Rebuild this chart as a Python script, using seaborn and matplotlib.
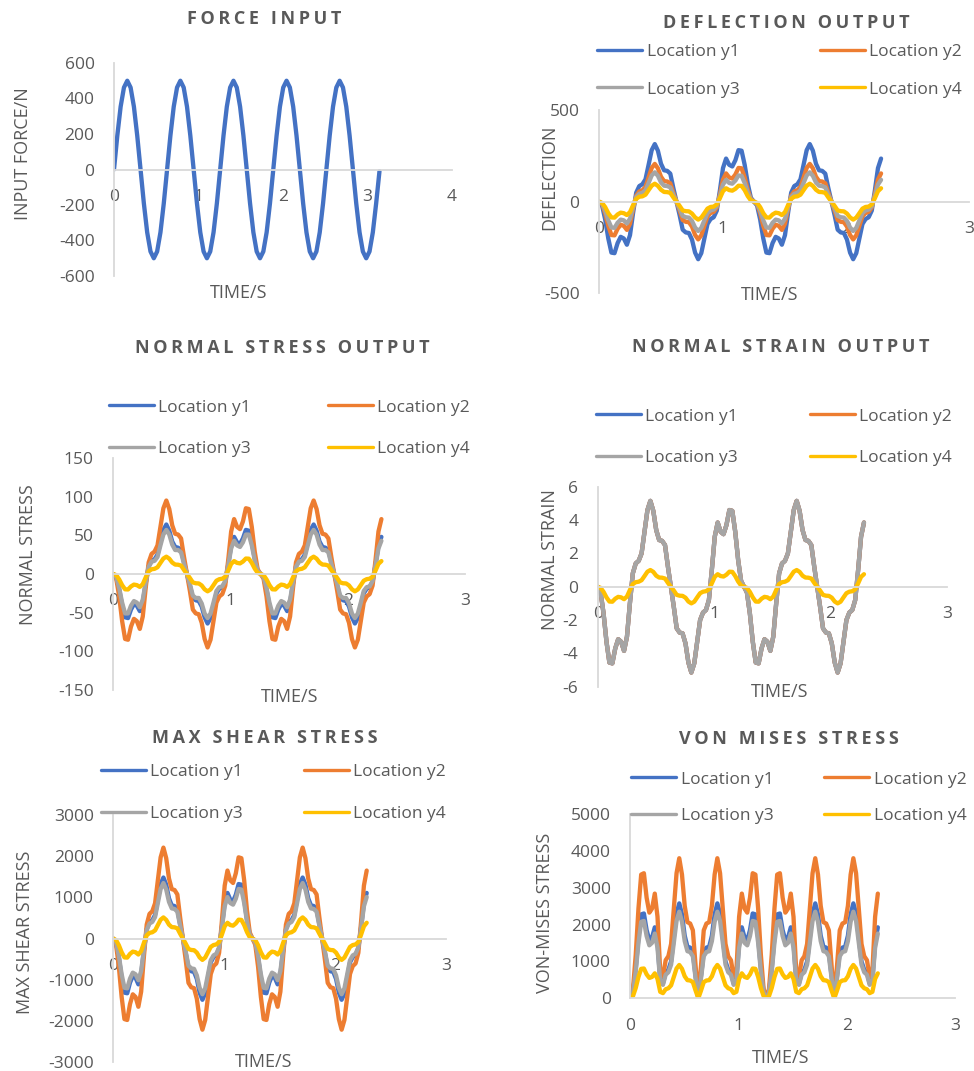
import numpy as np
import pandas as pd
import matplotlib
matplotlib.use("Agg")
import matplotlib.pyplot as plt
from matplotlib.lines import Line2D
import seaborn as sns

# ---------------------------------------------------------------- data
LOCATIONS = ["Location y1", "Location y2", "Location y3", "Location y4"]

# Force input: 16 samples per cycle over five cycles
FORCE_TIME = np.linspace(0, 3.1416, 81)
FORCE = [0, 191, 354, 462, 500, 462, 354, 191, 0, -191, -354, -462, -500, -462, -354, -191,
         0, 191, 354, 462, 500, 462, 354, 191, 0, -191, -354, -462, -500, -462, -354, -191,
         0, 191, 354, 462, 500, 462, 354, 191, 0, -191, -354, -462, -500, -462, -354, -191,
         0, 191, 354, 462, 500, 462, 354, 191, 0, -191, -354, -462, -500, -462, -354, -191,
         0, 191, 354, 462, 500, 462, 354, 191, 0, -191, -354, -462, -500, -462, -354, -191,
         -10]

# Response time base
TIME = np.linspace(0, 2.287, 92)

DEFL_Y1 = [0, -21, -98, -201, -278, -281, -226, -192, -201, -235, -183, -61, 49, 85, 95, 122, 201, 281, 314, 278, 207, 171, 168, 153, 73, 0,
           -73, -153, -168, -171, -207, -278, -314, -281, -201, -122, -95, -85, -49, 61, 183, 235, 201, 192, 226, 281, 278, 201, 98, 21, 0,
           -21, -98, -201, -278, -281, -226, -192, -201, -235, -183, -61, 49, 85, 95, 122, 201, 281, 314, 278, 207, 171, 168, 153, 73, 0,
           -73, -153, -168, -171, -207, -278, -314, -281, -201, -122, -95, -85, -49, 61, 183, 235]
DEFL_Y2 = [0, -14, -64, -132, -182, -184, -148, -126, -132, -154, -120, -40, 32, 56, 62, 80, 132, 184, 206, 182, 136, 112, 110, 100, 48, 0,
           -48, -100, -110, -112, -136, -182, -206, -184, -132, -80, -62, -56, -32, 40, 120, 154, 132, 126, 148, 184, 182, 132, 64, 14, 0,
           -14, -64, -132, -182, -184, -148, -126, -132, -154, -120, -40, 32, 56, 62, 80, 132, 184, 206, 182, 136, 112, 110, 100, 48, 0,
           -48, -100, -110, -112, -136, -182, -206, -184, -132, -80, -62, -56, -32, 40, 120, 154]
DEFL_Y3 = [0, -11, -50, -102, -141, -143, -115, -98, -102, -119, -93, -31, 25, 43, 48, 62, 102, 143, 160, 141, 105, 87, 85, 78, 37, 0,
           -37, -78, -85, -87, -105, -141, -160, -143, -102, -62, -48, -43, -25, 31, 93, 119, 102, 98, 115, 143, 141, 102, 50, 11, 0,
           -11, -50, -102, -141, -143, -115, -98, -102, -119, -93, -31, 25, 43, 48, 62, 102, 143, 160, 141, 105, 87, 85, 78, 37, 0,
           -37, -78, -85, -87, -105, -141, -160, -143, -102, -62, -48, -43, -25, 31, 93, 119]
DEFL_Y4 = [0, -7, -30, -63, -86, -87, -70, -60, -63, -73, -57, -19, 15, 27, 29, 38, 63, 87, 98, 86, 65, 53, 52, 48, 23, 0,
           -23, -48, -52, -53, -65, -86, -98, -87, -63, -38, -29, -27, -15, 19, 57, 73, 63, 60, 70, 87, 86, 63, 30, 7, 0,
           -7, -30, -63, -86, -87, -70, -60, -63, -73, -57, -19, 15, 27, 29, 38, 63, 87, 98, 86, 65, 53, 52, 48, 23, 0,
           -23, -48, -52, -53, -65, -86, -98, -87, -63, -38, -29, -27, -15, 19, 57, 73]

STRESS_Y1 = [0, -4, -20, -41, -56, -57, -46, -39, -41, -48, -37, -12, 10, 17, 19, 25, 41, 57, 64, 56, 42, 35, 34, 31, 15, 0,
             -15, -31, -34, -35, -42, -56, -64, -57, -41, -25, -19, -17, -10, 12, 37, 48, 41, 39, 46, 57, 56, 41, 20, 4, 0,
             -4, -20, -41, -56, -57, -46, -39, -41, -48, -37, -12, 10, 17, 19, 25, 41, 57, 64, 56, 42, 35, 34, 31, 15, 0,
             -15, -31, -34, -35, -42, -56, -64, -57, -41, -25, -19, -17, -10, 12, 37, 48]
STRESS_Y2 = [0, -6, -29, -61, -84, -85, -68, -58, -61, -71, -55, -18, 15, 26, 29, 37, 61, 85, 95, 84, 63, 52, 51, 46, 22, 0,
             -22, -46, -51, -52, -63, -84, -95, -85, -61, -37, -29, -26, -15, 18, 55, 71, 61, 58, 68, 85, 84, 61, 29, 6, 0,
             -6, -29, -61, -84, -85, -68, -58, -61, -71, -55, -18, 15, 26, 29, 37, 61, 85, 95, 84, 63, 52, 51, 46, 22, 0,
             -22, -46, -51, -52, -63, -84, -95, -85, -61, -37, -29, -26, -15, 18, 55, 71]
STRESS_Y3 = [0, -4, -18, -37, -51, -51, -41, -35, -37, -43, -33, -11, 9, 16, 17, 22, 37, 51, 57, 51, 38, 31, 31, 28, 13, 0,
             -13, -28, -31, -31, -38, -51, -57, -51, -37, -22, -17, -16, -9, 11, 33, 43, 37, 35, 41, 51, 51, 37, 18, 4, 0,
             -4, -18, -37, -51, -51, -41, -35, -37, -43, -33, -11, 9, 16, 17, 22, 37, 51, 57, 51, 38, 31, 31, 28, 13, 0,
             -13, -28, -31, -31, -38, -51, -57, -51, -37, -22, -17, -16, -9, 11, 33, 43]
STRESS_Y4 = [0, -1.5, -7.0, -14.4, -19.8, -20.0, -16.1, -13.7, -14.4, -16.7, -13.1, -4.4, 3.5, 6.1, 6.7, 8.7, 14.4, 20.0, 22.4, 19.8, 14.8, 12.2, 12.0, 10.9, 5.2, 0,
             -5.2, -10.9, -12.0, -12.2, -14.8, -19.8, -22.4, -20.0, -14.4, -8.7, -6.7, -6.1, -3.5, 4.4, 13.1, 16.7, 14.4, 13.7, 16.1, 20.0, 19.8, 14.4, 7.0, 1.5, 0,
             -1.5, -7.0, -14.4, -19.8, -20.0, -16.1, -13.7, -14.4, -16.7, -13.1, -4.4, 3.5, 6.1, 6.7, 8.7, 14.4, 20.0, 22.4, 19.8, 14.8, 12.2, 12.0, 10.9, 5.2, 0,
             -5.2, -10.9, -12.0, -12.2, -14.8, -19.8, -22.4, -20.0, -14.4, -8.7, -6.7, -6.1, -3.5, 4.4, 13.1, 16.7]

STRAIN_Y1 = [0, -0.35, -1.6, -3.3, -4.55, -4.6, -3.7, -3.15, -3.3, -3.85, -3.0, -1.0, 0.8, 1.4, 1.55, 2.0, 3.3, 4.6, 5.15, 4.55, 3.4, 2.8, 2.75, 2.5, 1.2, 0,
             -1.2, -2.5, -2.75, -2.8, -3.4, -4.55, -5.15, -4.6, -3.3, -2.0, -1.55, -1.4, -0.8, 1.0, 3.0, 3.85, 3.3, 3.15, 3.7, 4.6, 4.55, 3.3, 1.6, 0.35, 0,
             -0.35, -1.6, -3.3, -4.55, -4.6, -3.7, -3.15, -3.3, -3.85, -3.0, -1.0, 0.8, 1.4, 1.55, 2.0, 3.3, 4.6, 5.15, 4.55, 3.4, 2.8, 2.75, 2.5, 1.2, 0,
             -1.2, -2.5, -2.75, -2.8, -3.4, -4.55, -5.15, -4.6, -3.3, -2.0, -1.55, -1.4, -0.8, 1.0, 3.0, 3.85]
STRAIN_Y2 = [0, -0.35, -1.6, -3.3, -4.55, -4.6, -3.7, -3.15, -3.3, -3.85, -3.0, -1.0, 0.8, 1.4, 1.55, 2.0, 3.3, 4.6, 5.15, 4.55, 3.4, 2.8, 2.75, 2.5, 1.2, 0,
             -1.2, -2.5, -2.75, -2.8, -3.4, -4.55, -5.15, -4.6, -3.3, -2.0, -1.55, -1.4, -0.8, 1.0, 3.0, 3.85, 3.3, 3.15, 3.7, 4.6, 4.55, 3.3, 1.6, 0.35, 0,
             -0.35, -1.6, -3.3, -4.55, -4.6, -3.7, -3.15, -3.3, -3.85, -3.0, -1.0, 0.8, 1.4, 1.55, 2.0, 3.3, 4.6, 5.15, 4.55, 3.4, 2.8, 2.75, 2.5, 1.2, 0,
             -1.2, -2.5, -2.75, -2.8, -3.4, -4.55, -5.15, -4.6, -3.3, -2.0, -1.55, -1.4, -0.8, 1.0, 3.0, 3.85]
STRAIN_Y3 = [0, -0.35, -1.6, -3.3, -4.55, -4.6, -3.7, -3.15, -3.3, -3.85, -3.0, -1.0, 0.8, 1.4, 1.55, 2.0, 3.3, 4.6, 5.15, 4.55, 3.4, 2.8, 2.75, 2.5, 1.2, 0,
             -1.2, -2.5, -2.75, -2.8, -3.4, -4.55, -5.15, -4.6, -3.3, -2.0, -1.55, -1.4, -0.8, 1.0, 3.0, 3.85, 3.3, 3.15, 3.7, 4.6, 4.55, 3.3, 1.6, 0.35, 0,
             -0.35, -1.6, -3.3, -4.55, -4.6, -3.7, -3.15, -3.3, -3.85, -3.0, -1.0, 0.8, 1.4, 1.55, 2.0, 3.3, 4.6, 5.15, 4.55, 3.4, 2.8, 2.75, 2.5, 1.2, 0,
             -1.2, -2.5, -2.75, -2.8, -3.4, -4.55, -5.15, -4.6, -3.3, -2.0, -1.55, -1.4, -0.8, 1.0, 3.0, 3.85]
STRAIN_Y4 = [0, -0.07, -0.31, -0.64, -0.89, -0.90, -0.72, -0.61, -0.64, -0.75, -0.59, -0.20, 0.16, 0.27, 0.30, 0.39, 0.64, 0.90, 1.00, 0.89, 0.66, 0.55, 0.54, 0.49, 0.23, 0,
             -0.23, -0.49, -0.54, -0.55, -0.66, -0.89, -1.00, -0.90, -0.64, -0.39, -0.30, -0.27, -0.16, 0.20, 0.59, 0.75, 0.64, 0.61, 0.72, 0.90, 0.89, 0.64, 0.31, 0.07, 0,
             -0.07, -0.31, -0.64, -0.89, -0.90, -0.72, -0.61, -0.64, -0.75, -0.59, -0.20, 0.16, 0.27, 0.30, 0.39, 0.64, 0.90, 1.00, 0.89, 0.66, 0.55, 0.54, 0.49, 0.23, 0,
             -0.23, -0.49, -0.54, -0.55, -0.66, -0.89, -1.00, -0.90, -0.64, -0.39, -0.30, -0.27, -0.16, 0.20, 0.59, 0.75]

SHEAR_Y1 = [0, -101, -461, -950, -1310, -1325, -1066, -907, -950, -1109, -864, -288, 230, 403, 446, 576, 950, 1325, 1483, 1310, 979, 806, 792, 720, 346, 0,
            -346, -720, -792, -806, -979, -1310, -1483, -1325, -950, -576, -446, -403, -230, 288, 864, 1109, 950, 907, 1066, 1325, 1310, 950, 461, 101, 0,
            -101, -461, -950, -1310, -1325, -1066, -907, -950, -1109, -864, -288, 230, 403, 446, 576, 950, 1325, 1483, 1310, 979, 806, 792, 720, 346, 0,
            -346, -720, -792, -806, -979, -1310, -1483, -1325, -950, -576, -446, -403, -230, 288, 864, 1109]
SHEAR_Y2 = [0, -150, -686, -1416, -1952, -1973, -1587, -1351, -1416, -1652, -1287, -429, 343, 601, 665, 858, 1416, 1973, 2209, 1952, 1459, 1201, 1180, 1073, 515, 0,
            -515, -1073, -1180, -1201, -1459, -1952, -2209, -1973, -1416, -858, -665, -601, -343, 429, 1287, 1652, 1416, 1351, 1587, 1973, 1952, 1416, 686, 150, 0,
            -150, -686, -1416, -1952, -1973, -1587, -1351, -1416, -1652, -1287, -429, 343, 601, 665, 858, 1416, 1973, 2209, 1952, 1459, 1201, 1180, 1073, 515, 0,
            -515, -1073, -1180, -1201, -1459, -1952, -2209, -1973, -1416, -858, -665, -601, -343, 429, 1287, 1652]
SHEAR_Y3 = [0, -92, -419, -865, -1192, -1205, -969, -825, -865, -1009, -786, -262, 210, 367, 406, 524, 865, 1205, 1349, 1192, 891, 734, 721, 655, 314, 0,
            -314, -655, -721, -734, -891, -1192, -1349, -1205, -865, -524, -406, -367, -210, 262, 786, 1009, 865, 825, 969, 1205, 1192, 865, 419, 92, 0,
            -92, -419, -865, -1192, -1205, -969, -825, -865, -1009, -786, -262, 210, 367, 406, 524, 865, 1205, 1349, 1192, 891, 734, 721, 655, 314, 0,
            -314, -655, -721, -734, -891, -1192, -1349, -1205, -865, -524, -406, -367, -210, 262, 786, 1009]
SHEAR_Y4 = [0, -35, -160, -330, -455, -460, -370, -315, -330, -385, -300, -100, 80, 140, 155, 200, 330, 460, 515, 455, 340, 280, 275, 250, 120, 0,
            -120, -250, -275, -280, -340, -455, -515, -460, -330, -200, -155, -140, -80, 100, 300, 385, 330, 315, 370, 460, 455, 330, 160, 35, 0,
            -35, -160, -330, -455, -460, -370, -315, -330, -385, -300, -100, 80, 140, 155, 200, 330, 460, 515, 455, 340, 280, 275, 250, 120, 0,
            -120, -250, -275, -280, -340, -455, -515, -460, -330, -200, -155, -140, -80, 100, 300, 385]

VM_Y1 = [0, 175, 802, 1653, 2280, 2305, 1854, 1578, 1653, 1929, 1503, 501, 401, 701, 777, 1002, 1653, 2305, 2580, 2280, 1703, 1403, 1378, 1253, 601, 0,
         601, 1253, 1378, 1403, 1703, 2280, 2580, 2305, 1653, 1002, 777, 701, 401, 501, 1503, 1929, 1653, 1578, 1854, 2305, 2280, 1653, 802, 175, 0,
         175, 802, 1653, 2280, 2305, 1854, 1578, 1653, 1929, 1503, 501, 401, 701, 777, 1002, 1653, 2305, 2580, 2280, 1703, 1403, 1378, 1253, 601, 0,
         601, 1253, 1378, 1403, 1703, 2280, 2580, 2305, 1653, 1002, 777, 701, 401, 501, 1503, 1929]
VM_Y2 = [0, 259, 1182, 2439, 3362, 3399, 2734, 2328, 2439, 2845, 2217, 739, 591, 1035, 1145, 1478, 2439, 3399, 3806, 3362, 2513, 2069, 2032, 1848, 887, 0,
         887, 1848, 2032, 2069, 2513, 3362, 3806, 3399, 2439, 1478, 1145, 1035, 591, 739, 2217, 2845, 2439, 2328, 2734, 3399, 3362, 2439, 1182, 259, 0,
         259, 1182, 2439, 3362, 3399, 2734, 2328, 2439, 2845, 2217, 739, 591, 1035, 1145, 1478, 2439, 3399, 3806, 3362, 2513, 2069, 2032, 1848, 887, 0,
         887, 1848, 2032, 2069, 2513, 3362, 3806, 3399, 2439, 1478, 1145, 1035, 591, 739, 2217, 2845]
VM_Y3 = [0, 160, 731, 1508, 2079, 2102, 1691, 1440, 1508, 1759, 1371, 457, 366, 640, 708, 914, 1508, 2102, 2354, 2079, 1554, 1280, 1257, 1143, 548, 0,
         548, 1143, 1257, 1280, 1554, 2079, 2354, 2102, 1508, 914, 708, 640, 366, 457, 1371, 1759, 1508, 1440, 1691, 2102, 2079, 1508, 731, 160, 0,
         160, 731, 1508, 2079, 2102, 1691, 1440, 1508, 1759, 1371, 457, 366, 640, 708, 914, 1508, 2102, 2354, 2079, 1554, 1280, 1257, 1143, 548, 0,
         548, 1143, 1257, 1280, 1554, 2079, 2354, 2102, 1508, 914, 708, 640, 366, 457, 1371, 1759]
VM_Y4 = [0, 62, 282, 581, 801, 810, 651, 554, 581, 678, 528, 176, 141, 246, 273, 352, 581, 810, 906, 801, 598, 493, 484, 440, 211, 0,
         211, 440, 484, 493, 598, 801, 906, 810, 581, 352, 273, 246, 141, 176, 528, 678, 581, 554, 651, 810, 801, 581, 282, 62, 0,
         62, 282, 581, 801, 810, 651, 554, 581, 678, 528, 176, 141, 246, 273, 352, 581, 810, 906, 801, 598, 493, 484, 440, 211, 0,
         211, 440, 484, 493, 598, 801, 906, 810, 581, 352, 273, 246, 141, 176, 528, 678]

# ---------------------------------------------------------------- style
sns.set_theme(style="white")
plt.rcParams["font.family"] = ["Open Sans", "DejaVu Sans"]
plt.rcParams["axes.unicode_minus"] = False

TEXT = "#595959"
AXIS_LINE = "#D9D9D9"
PALETTE = dict(zip(LOCATIONS, ["#4472C4", "#ED7D31", "#A5A5A5", "#FFC000"]))
LINE_W = 3.1
TICK_SIZE = 12.5
LABEL_SIZE = 13
TITLE_SIZE = 13
LEGEND_SIZE = 12.5

W, H = 974, 1071
fig = plt.figure(figsize=(W / 100, H / 100), dpi=100)
fig.patch.set_facecolor("white")


def fx(x):
    return x / W


def fy(y):
    return 1 - y / H


def add_panel(x0, x1, y_top, y_bot, xlim, xticks, ylim, yticks):
    ax = fig.add_axes([fx(x0), fy(y_bot), (x1 - x0) / W, (y_bot - y_top) / H])
    ax.set_xlim(*xlim)
    ax.set_ylim(*ylim)
    ax.set_xticks(xticks)
    ax.set_yticks(yticks)
    ax.patch.set_alpha(0)
    for side in ("top", "right"):
        ax.spines[side].set_visible(False)
    ax.spines["left"].set_color(AXIS_LINE)
    ax.spines["left"].set_linewidth(1.3)
    ax.spines["bottom"].set_color(AXIS_LINE)
    ax.spines["bottom"].set_linewidth(1.3)
    ax.spines["bottom"].set_position(("data", 0))
    ax.tick_params(axis="both", length=0, pad=14, labelsize=TICK_SIZE, labelcolor=TEXT)
    return ax


def plot_series(ax, series):
    frame = pd.DataFrame({
        "time": np.concatenate([TIME] * len(series)),
        "value": np.concatenate([np.asarray(v, dtype=float) for v in series]),
        "location": np.repeat(LOCATIONS, len(TIME)),
    })
    sns.lineplot(data=frame, x="time", y="value", hue="location", hue_order=LOCATIONS,
                 palette=PALETTE, estimator=None, sort=False, legend=False,
                 linewidth=LINE_W, ax=ax, solid_joinstyle="round", solid_capstyle="round")
    ax.set_xlabel("")
    ax.set_ylabel("")


def spaced(text):
    return "\u2009".join(text)


def title(text, xc, yc):
    fig.text(fx(xc), fy(yc + 6.5), spaced(text), ha="center", va="baseline",
             fontsize=TITLE_SIZE, fontweight="bold", color=TEXT)


def axis_titles(xlabel_pos, ylabel_text, ylabel_pos):
    fig.text(fx(xlabel_pos[0]), fy(xlabel_pos[1] + 6.6), "TIME/S", ha="center",
             va="baseline", fontsize=LABEL_SIZE, color=TEXT)
    fig.text(fx(ylabel_pos[0] + 6.6), fy(ylabel_pos[1]), ylabel_text, ha="center",
             va="baseline", rotation=90, rotation_mode="anchor",
             fontsize=LABEL_SIZE, color=TEXT)


def legend(rows, handle_x, text_x, handle_len=45):
    k = 0
    for y in rows:
        for hx, tx in zip(handle_x, text_x):
            name = LOCATIONS[k]
            fig.add_artist(Line2D([fx(hx), fx(hx + handle_len)], [fy(y), fy(y)],
                                  transform=fig.transFigure, color=PALETTE[name],
                                  linewidth=2.4, solid_capstyle="round"))
            fig.text(fx(tx), fy(y + 6.5), name, ha="left", va="baseline",
                     fontsize=LEGEND_SIZE, color=TEXT)
            k += 1


# ---------------------------------------------------------------- force input
ax = add_panel(114, 452, 63, 276, (0, 4), [0, 1, 2, 3, 4], (-600, 600),
               [-600, -400, -200, 0, 200, 400, 600])
sns.lineplot(x=FORCE_TIME, y=FORCE, ax=ax, color="#4472C4", linewidth=LINE_W,
             estimator=None, sort=False, solid_joinstyle="round", solid_capstyle="round")
title("FORCE INPUT", 264, 17)
axis_titles((239, 291), "INPUT FORCE/N", (21.7, 154))

# ---------------------------------------------------------------- deflection
ax = add_panel(599, 969, 110, 293.3, (0, 3), [0, 1, 2, 3], (-500, 500), [-500, 0, 500])
plot_series(ax, [DEFL_Y1, DEFL_Y2, DEFL_Y3, DEFL_Y4])
title("DEFLECTION OUTPUT", 786.5, 21.7)
legend((50, 87.3), (597, 820), (647, 869))
axis_titles((770, 293.3), "DEFLECTION", (548, 177.5))

# ---------------------------------------------------------------- normal stress
ax = add_panel(113.3, 465, 458, 690, (0, 3), [0, 1, 2, 3], (-150, 150),
               [-150, -100, -50, 0, 50, 100, 150])
plot_series(ax, [STRESS_Y1, STRESS_Y2, STRESS_Y3, STRESS_Y4])
title("NORMAL STRESS OUTPUT", 282.5, 346.7)
legend((405, 446.7), (109.3, 327.7), (158.3, 377))
axis_titles((290, 695), "NORMAL STRESS", (26, 555))

# ---------------------------------------------------------------- normal strain
ax = add_panel(597.7, 947, 486.7, 686.7, (0, 3), [0, 1, 2, 3], (-6, 6),
               [-6, -4, -2, 0, 2, 4, 6])
plot_series(ax, [STRAIN_Y1, STRAIN_Y2, STRAIN_Y3, STRAIN_Y4])
title("NORMAL STRAIN OUTPUT", 780.5, 345.7)
legend((414.3, 455.7), (596.3, 810.3), (645, 859.3))
axis_titles((779.5, 690), "NORMAL STRAIN", (548.7, 560))

# ---------------------------------------------------------------- max shear stress
ax = add_panel(113.3, 445.7, 815, 1062.3, (0, 3), [0, 1, 2, 3], (-3000, 3000),
               [-3000, -2000, -1000, 0, 1000, 2000, 3000])
plot_series(ax, [SHEAR_Y1, SHEAR_Y2, SHEAR_Y3, SHEAR_Y4])
title("MAX SHEAR STRESS", 265, 736.7)
legend((770, 811.7), (101, 304), (150, 353))
axis_titles((264, 1060), "MAX SHEAR STRESS", (23, 932))

# ---------------------------------------------------------------- von Mises stress
ax = add_panel(630.3, 955, 814.3, 998.3, (0, 3), [0, 1, 2, 3], (0, 5000),
               [0, 1000, 2000, 3000, 4000, 5000])
plot_series(ax, [VM_Y1, VM_Y2, VM_Y3, VM_Y4])
title("VON MISES STRESS", 789, 737.7)
legend((777.3, 813.7), (631.3, 824.3), (681, 873.7))
axis_titles((781, 1056), "VON-MISES STRESS", (543.7, 913))

fig.savefig("out.png", dpi=100, facecolor="white")
